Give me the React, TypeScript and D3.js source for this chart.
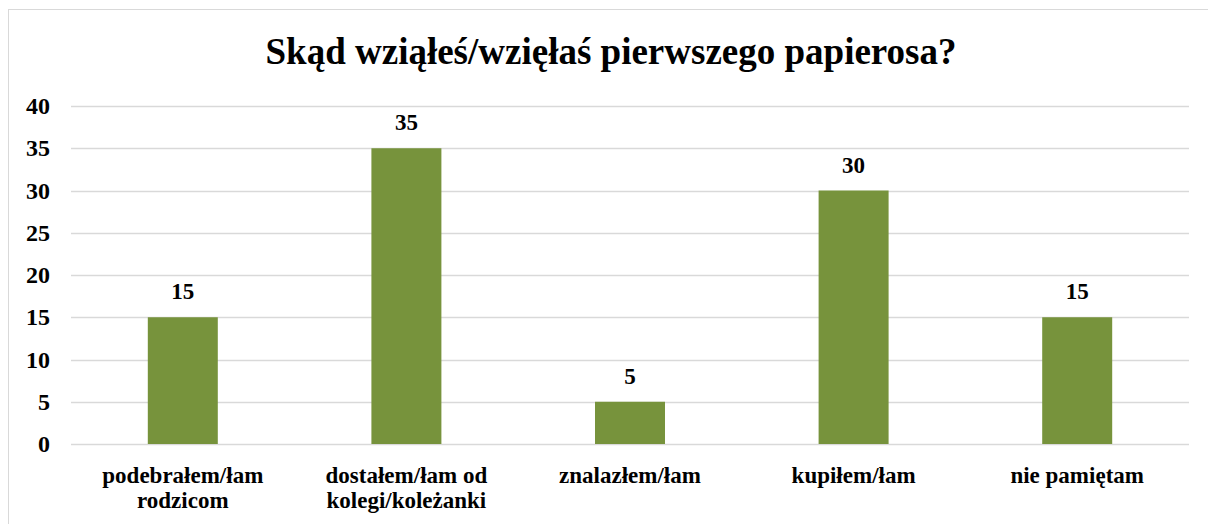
import React, { useEffect, useRef } from "react";
import * as d3 from "d3";

const title = "Skąd wziąłeś/wzięłaś pierwszego papierosa?";
const categories = [
  ["podebrałem/łam", "rodzicom"],
  ["dostałem/łam od", "kolegi/koleżanki"],
  ["znalazłem/łam"],
  ["kupiłem/łam"],
  ["nie pamiętam"],
];
const values = [15, 35, 5, 30, 15];
const yTicks = [0, 5, 10, 15, 20, 25, 30, 35, 40];

const FONT = "Liberation Serif, Tinos, Times New Roman, DejaVu Serif, serif";

function App() {
  const ref = useRef<SVGSVGElement | null>(null);

  useEffect(() => {
    const width = 1208;
    const height = 524;
    const margin = { left: 71, right: 19, top: 106, bottom: 80 };

    const svg = d3.select(ref.current);
    svg.selectAll("*").remove();

    // frame
    svg
      .append("rect")
      .attr("x", 8.5)
      .attr("y", 9.5)
      .attr("width", 1300)
      .attr("height", 600)
      .attr("fill", "#fff")
      .attr("stroke", "#d9d9d9");

    svg
      .append("text")
      .attr("x", 611)
      .attr("y", 64)
      .attr("text-anchor", "middle")
      .attr("font-family", FONT)
      .attr("font-weight", "bold")
      .attr("font-size", 37)
      .text(title);

    const x = d3
      .scaleBand()
      .domain(categories.map((_, i) => String(i)))
      .range([margin.left, width - margin.right])
      .paddingInner(0.687)
      .paddingOuter(0.3435);

    const y = d3
      .scaleLinear()
      .domain([0, 40])
      .range([height - margin.bottom, margin.top]);

    svg
      .append("g")
      .selectAll("line")
      .data(yTicks)
      .enter()
      .append("line")
      .attr("x1", margin.left)
      .attr("x2", width - margin.right)
      .attr("y1", (d) => Math.round(y(d)) + 0.5)
      .attr("y2", (d) => Math.round(y(d)) + 0.5)
      .attr("stroke", "#d9d9d9")
      .attr("stroke-width", 1.5);

    svg
      .append("g")
      .selectAll("text")
      .data(yTicks)
      .enter()
      .append("text")
      .attr("x", 50)
      .attr("y", (d) => y(d) + 8)
      .attr("text-anchor", "end")
      .attr("font-family", FONT)
      .attr("font-weight", "bold")
      .attr("font-size", 24)
      .text((d) => d);

    svg
      .append("g")
      .selectAll("rect")
      .data(values)
      .enter()
      .append("rect")
      .attr("x", (_, i) => x(String(i))!)
      .attr("width", x.bandwidth())
      .attr("y", (d) => y(d))
      .attr("height", (d) => y(0) - y(d))
      .attr("fill", "#77933c");

    svg
      .append("g")
      .selectAll("text")
      .data(values)
      .enter()
      .append("text")
      .attr("x", (_, i) => x(String(i))! + x.bandwidth() / 2)
      .attr("y", (d) => y(d) - 18)
      .attr("text-anchor", "middle")
      .attr("font-family", FONT)
      .attr("font-weight", "bold")
      .attr("font-size", 23)
      .text((d) => d);

    const labels = svg.append("g");
    categories.forEach((lines, i) => {
      const t = labels
        .append("text")
        .attr("x", x(String(i))! + x.bandwidth() / 2)
        .attr("y", 483)
        .attr("text-anchor", "middle")
        .attr("font-family", FONT)
        .attr("font-weight", "bold")
        .attr("font-size", 23);
      lines.forEach((line, j) => {
        t.append("tspan")
          .attr("x", x(String(i))! + x.bandwidth() / 2)
          .attr("dy", j === 0 ? 0 : 25)
          .text(line);
      });
    });
  }, []);

  return <svg ref={ref} width={1208} height={524} style={{ display: "block", position: "absolute", left: 0, top: 0 }} />;
}

export default App;
